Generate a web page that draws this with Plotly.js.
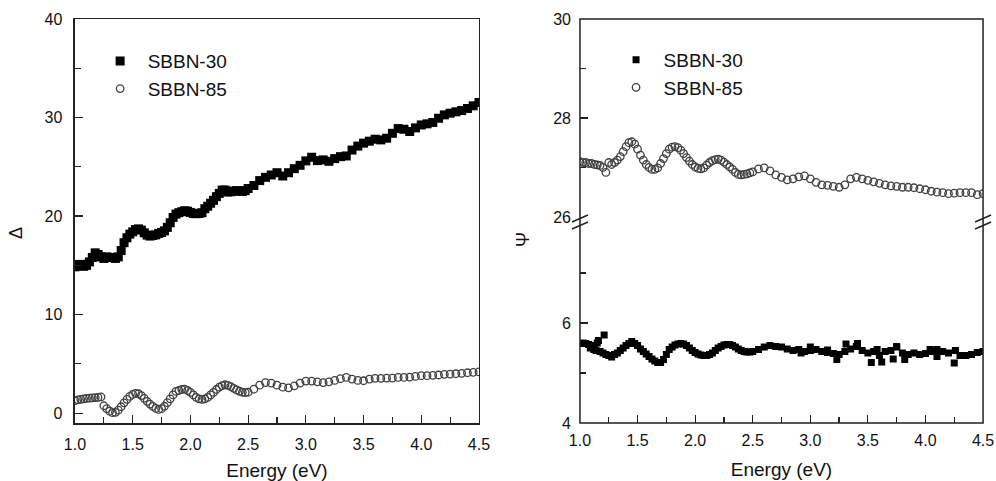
<!DOCTYPE html>
<html>
<head>
<meta charset="utf-8">
<script src="https://cdn.plot.ly/plotly-3.0.1.min.js"></script>
<style>html,body{margin:0;padding:0;background:#fff;}#chart{width:996px;height:481px;}</style>
</head>
<body>
<div id="chart"></div>
<script>
// Photon energy (eV)
var energy = [
 1.000,1.025,1.050,1.075,1.100,1.125,1.150,1.175,1.200,1.225,
 1.250,1.275,1.300,1.325,1.350,1.375,1.400,1.425,1.450,1.475,
 1.500,1.525,1.550,1.575,1.600,1.625,1.650,1.675,1.700,1.725,
 1.750,1.775,1.800,1.825,1.850,1.875,1.900,1.925,1.950,1.975,
 2.000,2.025,2.050,2.075,2.100,2.125,2.150,2.175,2.200,2.225,
 2.250,2.275,2.300,2.325,2.350,2.375,2.400,2.425,2.450,2.475,
 2.500,
 2.55,2.60,2.65,2.70,2.75,2.80,2.85,2.90,2.95,3.00,
 3.05,3.10,3.15,3.20,3.25,3.30,3.35,3.40,3.45,3.50,
 3.55,3.60,3.65,3.70,3.75,3.80,3.85,3.90,3.95,4.00,
 4.05,4.10,4.15,4.20,4.25,4.30,4.35,4.40,4.45,4.50
];

// Delta, SBBN-30
var delta30 = [
 14.85,15.08,15.10,14.90,15.00,15.35,15.80,16.27,16.10,15.86,
 15.70,15.86,15.80,15.80,15.70,15.86,16.50,17.30,17.80,18.17,
 18.40,18.64,18.70,18.58,18.30,18.07,17.97,18.03,18.10,18.24,
 18.34,18.50,18.85,19.32,19.86,20.20,20.34,20.44,20.54,20.50,
 20.37,20.27,20.24,20.27,20.34,20.75,21.00,21.30,21.60,21.97,
 22.30,22.64,22.64,22.44,22.47,22.54,22.58,22.54,22.50,22.58,
 22.80,
 23.10,23.60,23.93,24.17,24.40,24.07,24.40,24.81,25.15,25.60,
 25.97,25.63,25.70,25.56,25.83,26.03,26.10,26.70,27.10,27.40,
 27.60,27.80,27.73,27.90,28.40,28.88,28.81,28.58,28.95,29.25,
 29.36,29.50,29.93,30.27,30.44,30.58,30.71,30.92,31.19,31.53
];

// Delta, SBBN-85
var delta85 = [
 1.27,1.35,1.40,1.45,1.50,1.52,1.55,1.58,1.60,1.65,
 0.75,0.45,0.20,0.05,0.08,0.30,0.65,1.05,1.40,1.70,
 1.90,2.00,1.97,1.78,1.50,1.20,0.92,0.68,0.48,0.38,
 0.45,0.70,1.06,1.45,1.85,2.20,2.30,2.40,2.43,2.30,
 2.10,1.85,1.60,1.45,1.40,1.45,1.60,1.85,2.10,2.40,
 2.64,2.80,2.88,2.82,2.70,2.52,2.36,2.22,2.12,2.08,
 2.12,
 2.43,2.84,3.10,3.05,2.84,2.64,2.57,2.77,3.05,3.25,
 3.25,3.18,3.10,3.18,3.32,3.50,3.63,3.46,3.32,3.29,
 3.46,3.53,3.53,3.56,3.56,3.63,3.63,3.66,3.73,3.80,
 3.80,3.84,3.87,3.94,3.97,4.00,4.04,4.10,4.14,4.18
];

// Psi, SBBN-85 (upper segment)
var psi85 = [
 27.12,27.10,27.10,27.08,27.08,27.06,27.05,27.04,27.00,26.90,
 27.10,27.06,27.10,27.15,27.22,27.32,27.42,27.50,27.52,27.47,
 27.37,27.25,27.15,27.06,27.00,26.96,26.96,26.99,27.08,27.18,
 27.28,27.37,27.41,27.42,27.40,27.35,27.28,27.20,27.13,27.06,
 27.01,26.98,26.97,26.99,27.05,27.10,27.14,27.16,27.17,27.15,
 27.11,27.06,27.01,26.96,26.90,26.86,26.85,26.86,26.87,26.89,
 26.91,
 26.97,26.99,26.93,26.85,26.80,26.75,26.77,26.81,26.83,26.77,
 26.70,26.65,26.64,26.62,26.60,26.65,26.77,26.80,26.77,26.74,
 26.71,26.68,26.65,26.63,26.62,26.60,26.60,26.59,26.57,26.55,
 26.52,26.50,26.49,26.47,26.48,26.49,26.49,26.49,26.45,26.47
];

// Psi, SBBN-30 (lower segment)
var psi30 = [
 5.59,5.60,5.59,5.57,5.55,5.52,5.60,5.43,5.40,5.37,
 5.35,5.32,5.37,5.40,5.45,5.50,5.55,5.59,5.63,5.59,
 5.55,5.48,5.43,5.38,5.33,5.28,5.24,5.21,5.21,5.27,
 5.37,5.47,5.52,5.56,5.58,5.59,5.58,5.55,5.50,5.45,
 5.41,5.38,5.36,5.35,5.35,5.37,5.40,5.45,5.50,5.53,
 5.56,5.57,5.57,5.55,5.52,5.48,5.45,5.43,5.42,5.42,
 5.43,
 5.47,5.52,5.55,5.53,5.52,5.48,5.45,5.47,5.43,5.45,
 5.47,5.43,5.41,5.39,5.37,5.43,5.48,5.53,5.45,5.40,
 5.43,5.35,5.43,5.45,5.52,5.40,5.37,5.40,5.37,5.39,
 5.43,5.33,5.43,5.40,5.20,5.35,5.35,5.37,5.41,5.43
];
// scattered extra SBBN-30 Psi points
var psi30ExtraE = [1.09,1.12,1.14,1.16,1.21,2.92,3.00,3.15,3.23,3.31,3.41,3.53,3.58,3.62,3.72,3.75,3.82,4.04,4.10,4.26];
var psi30Extra  = [5.50,5.47,5.45,5.65,5.76,5.40,5.52,5.46,5.27,5.58,5.59,5.21,5.47,5.22,5.28,5.53,5.27,5.47,5.47,5.45];

var seriesNames = ['SBBN-30','SBBN-85'];
var xTitle = 'Energy (eV)';

var axisColor = '#222';
var fontFam = 'Liberation Sans, Arial, Helvetica, sans-serif';

var squareMk = function(sz){ return {symbol:'square', size:sz, color:'#000', line:{width:0}}; };
var circleMk = {symbol:'circle-open', size:7.5, color:'#404040', line:{width:1.3, color:'#404040'}};

var traces = [
 {x:energy, y:delta30, xaxis:'x', yaxis:'y', mode:'markers', name:seriesNames[0], legend:'legend', marker:squareMk(9)},
 {x:energy, y:delta85, xaxis:'x', yaxis:'y', mode:'markers', name:seriesNames[1], legend:'legend', marker:circleMk},
 {x:energy.concat(psi30ExtraE), y:psi30.concat(psi30Extra), xaxis:'x2', yaxis:'y2', mode:'markers', name:seriesNames[0], legend:'legend2', marker:squareMk(7)},
 {x:energy, y:psi85, xaxis:'x2', yaxis:'y3', mode:'markers', name:seriesNames[1], legend:'legend2', marker:circleMk}
];

function xAxis(dom, anchor, line){
 return {domain:dom, anchor:anchor, range:[1,4.5], tick0:1, dtick:0.5, tickformat:'.1f',
  ticks:'inside', ticklen:8, tickwidth:1.2, tickcolor:axisColor,
  minor:{dtick:0.25, tick0:1, ticks:'inside', ticklen:6, tickwidth:1.2, tickcolor:axisColor, showgrid:false},
  showline:line, mirror:line, linewidth:1.5, linecolor:axisColor,
  showgrid:false, zeroline:false, ticklabelstandoff:6,
  tickfont:{size:16, color:'#111'},
  title:{text:xTitle, font:{size:19, color:'#111'}, standoff:14}};
}
function yAxisBase(dom, anchor){
 return {domain:dom, anchor:anchor, ticks:'inside', ticklen:8, tickwidth:1.2, tickcolor:axisColor,
  showgrid:false, zeroline:false, ticklabelstandoff:8, tickfont:{size:16, color:'#111'}};
}

var y1 = yAxisBase([0,1],'x');
y1.range=[-1,40]; y1.tick0=0; y1.dtick=10;
y1.minor={dtick:5, tick0:0, ticks:'inside', ticklen:6, tickwidth:1.2, tickcolor:axisColor, showgrid:false};
y1.showline=true; y1.mirror=true; y1.linewidth=1.5; y1.linecolor=axisColor;

var y2 = yAxisBase([0,0.495],'x2');
y2.range=[4,8]; y2.tickmode='array'; y2.tickvals=[4,6];
y2.minor={tickmode:'array', tickvals:[5,7], ticks:'inside', ticklen:6, tickwidth:1.2, tickcolor:axisColor, showgrid:false};
y2.showline=false;

var y3 = yAxisBase([0.51,1],'x2');
y3.range=[26,30]; y3.tickmode='array'; y3.tickvals=[26,28,30];
y3.minor={tickmode:'array', tickvals:[27,29], ticks:'inside', ticklen:6, tickwidth:1.2, tickcolor:axisColor, showgrid:false};
y3.showline=false;

var xL = 0.5823, xR = 0.9870;
function brk(xc){
 var dx = 8/996, h1 = 215, h2 = 222, h3 = 229;
 function py(p){ return (423-p)/404; }
 return [
  {type:'line', xref:'paper', yref:'paper', x0:xc-dx, x1:xc+dx, y0:py(h2), y1:py(h1), line:{color:axisColor, width:1.5}},
  {type:'line', xref:'paper', yref:'paper', x0:xc-dx, x1:xc+dx, y0:py(h3), y1:py(h2), line:{color:axisColor, width:1.5}}
 ];
}

var layout = {
 width:996, height:481,
 margin:{l:0, r:0, t:19, b:58},
 paper_bgcolor:'#fff', plot_bgcolor:'#fff',
 font:{family:fontFam, color:'#111', size:16},
 showlegend:true,
 xaxis:xAxis([0.0753,0.4809],'y',true),
 yaxis:y1,
 xaxis2:xAxis([xL,xR],'y2',false),
 yaxis2:y2,
 yaxis3:y3,
 legend:{x:0.093, y:0.943, xanchor:'left', yanchor:'top', bgcolor:'rgba(0,0,0,0)', font:{size:19, color:'#111'}, itemsizing:'trace', itemwidth:45, tracegroupgap:0},
 legend2:{x:0.611, y:0.946, xanchor:'left', yanchor:'top', bgcolor:'rgba(0,0,0,0)', font:{size:19, color:'#111'}, itemsizing:'trace', itemwidth:45, tracegroupgap:0},
 shapes:[
  {type:'rect', xref:'paper', yref:'paper', x0:xL, x1:xR, y0:0, y1:1, line:{color:axisColor, width:1.5}, fillcolor:'rgba(0,0,0,0)'}
 ].concat(brk(xL)).concat(brk(xR)),
 annotations:[
  {text:'Δ', xref:'paper', yref:'paper', x:16/996, xanchor:'center', y:(423-233)/404, yanchor:'middle', showarrow:false, textangle:-90, font:{size:18, color:'#111'}},
  {text:'Ψ', xref:'paper', yref:'paper', x:523/996, xanchor:'center', y:(423-240)/404, yanchor:'middle', showarrow:false, textangle:-90, font:{size:18, color:'#111'}}
 ]
};

Plotly.newPlot('chart', traces, layout, {displayModeBar:false, staticPlot:true});
</script>
</body>
</html>
